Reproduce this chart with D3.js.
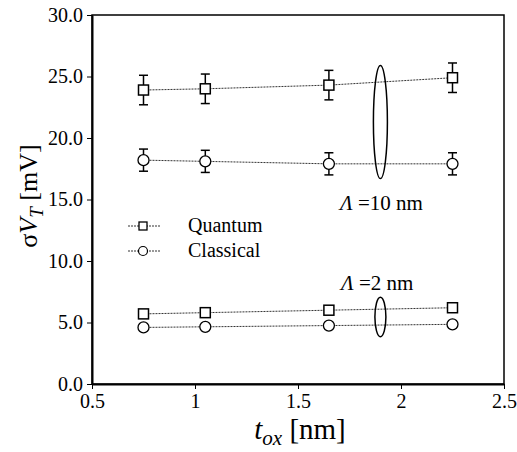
<!DOCTYPE html>
<html>
<head>
<meta charset="utf-8">
<script src="https://cdn.jsdelivr.net/npm/d3@7"></script>
<style>
  body { margin: 0; background: #fff; }
  svg text { font-family: "Liberation Serif", "Times New Roman", serif; }
</style>
</head>
<body>
<svg id="chart" width="517" height="452"></svg>
<script>
// oxide thickness [nm]
const tox = [0.75, 1.05, 1.65, 2.25];

// Lambda = 10 nm
const quantum10 = [23.9, 24.0, 24.3, 24.9];
const quantum10Err = [1.2, 1.2, 1.2, 1.2];
const classical10 = [18.2, 18.1, 17.9, 17.9];
const classical10Err = [0.9, 0.9, 0.9, 0.9];

// Lambda = 2 nm
const quantum2 = [5.7, 5.8, 6.0, 6.2];
const classical2 = [4.6, 4.65, 4.75, 4.85];

const xTicks = [0.5, 1, 1.5, 2, 2.5];
const yTicks = [0, 5, 10, 15, 20, 25, 30];

const margin = { left: 92, right: 13, top: 15, bottom: 68 };
const width = 517, height = 452;

const svg = d3.select("#chart");

const x = d3.scaleLinear().domain([0.5, 2.5]).range([margin.left, width - margin.right]);
const y = d3.scaleLinear().domain([0, 30]).range([height - margin.bottom, margin.top]);

// frame
svg.append("rect")
    .attr("x", x(0.5)).attr("y", y(30))
    .attr("width", x(2.5) - x(0.5)).attr("height", y(0) - y(30))
    .attr("fill", "none").attr("stroke", "#000").attr("stroke-width", 1.5);

// axes
const xAxis = svg.append("g")
    .attr("transform", `translate(0,${y(0)})`)
    .call(d3.axisBottom(x).tickValues(xTicks).tickSize(5).tickSizeOuter(0)
        .tickFormat(d => d === 1 || d === 2 ? String(d) : d3.format(".1f")(d)));
xAxis.attr("font-family", null);
xAxis.select(".domain").attr("stroke-width", 2);
xAxis.selectAll("text").attr("font-size", 20).attr("dy", "0.8em");

const yAxis = svg.append("g")
    .attr("transform", `translate(${x(0.5)},0)`)
    .call(d3.axisLeft(y).tickValues(yTicks).tickSize(5).tickSizeOuter(0).tickFormat(d3.format(".1f")));
yAxis.attr("font-family", null);
yAxis.select(".domain").attr("stroke-width", 2);
yAxis.selectAll("text").attr("font-size", 20).attr("dx", "-1px");

// series
const line = d3.line().x(d => x(d[0])).y(d => y(d[1]));

function drawSeries(vals, errs, shape) {
    const pts = tox.map((t, i) => [t, vals[i]]);
    svg.append("path")
        .datum(pts)
        .attr("d", line)
        .attr("fill", "none")
        .attr("stroke", "#333")
        .attr("stroke-width", 1)
        .attr("stroke-dasharray", "2,1");

    if (errs) {
        const g = svg.append("g").attr("stroke", "#000").attr("stroke-width", 1.5);
        tox.forEach((t, i) => {
            const cx = x(t);
            const top = y(vals[i] + errs[i]), bot = y(vals[i] - errs[i]);
            g.append("line").attr("x1", cx).attr("x2", cx).attr("y1", top).attr("y2", bot);
            g.append("line").attr("x1", cx - 4.5).attr("x2", cx + 4.5).attr("y1", top).attr("y2", top);
            g.append("line").attr("x1", cx - 4.5).attr("x2", cx + 4.5).attr("y1", bot).attr("y2", bot);
        });
    }

    const m = svg.append("g");
    pts.forEach(p => drawMarker(m, x(p[0]), y(p[1]), shape));
}

function drawMarker(g, cx, cy, shape) {
    if (shape === "square") {
        g.append("rect")
            .attr("x", cx - 5).attr("y", cy - 5).attr("width", 10).attr("height", 10)
            .attr("fill", "#fff").attr("stroke", "#000").attr("stroke-width", 1.5);
    } else {
        g.append("circle")
            .attr("cx", cx).attr("cy", cy).attr("r", 5.5)
            .attr("fill", "#fff").attr("stroke", "#000").attr("stroke-width", 1.3);
    }
}

drawSeries(quantum10, quantum10Err, "square");
drawSeries(classical10, classical10Err, "circle");
drawSeries(quantum2, null, "square");
drawSeries(classical2, null, "circle");

// group ellipses
svg.append("ellipse")
    .attr("cx", x(1.9)).attr("cy", y(21.3))
    .attr("rx", 7).attr("ry", y(16.7) - y(21.3))
    .attr("fill", "none").attr("stroke", "#000").attr("stroke-width", 1.5);
svg.append("ellipse")
    .attr("cx", x(1.9)).attr("cy", y(5.45))
    .attr("rx", 5.5).attr("ry", y(3.85) - y(5.45))
    .attr("fill", "none").attr("stroke", "#000").attr("stroke-width", 1.5);

// annotations
function lambdaLabel(tx, ty, val) {
    const t = svg.append("text").attr("x", tx).attr("y", ty).attr("font-size", 21);
    t.append("tspan").attr("font-style", "italic").text("\u039B");
    t.append("tspan").text(` =${val} nm`);
}
lambdaLabel(340, 210, 10);
lambdaLabel(341, 290, 2);

// legend
const legend = [["Quantum", "square", 226], ["Classical", "circle", 251]];
legend.forEach(([name, shape, ly]) => {
    svg.append("line")
        .attr("x1", 128).attr("x2", 160).attr("y1", ly).attr("y2", ly)
        .attr("stroke", "#333").attr("stroke-width", 1).attr("stroke-dasharray", "2,1");
    const g = svg.append("g");
    if (shape === "square") {
        g.append("rect").attr("x", 139).attr("y", ly - 4).attr("width", 8).attr("height", 8)
            .attr("fill", "#fff").attr("stroke", "#000").attr("stroke-width", 1.3);
    } else {
        g.append("circle").attr("cx", 143).attr("cy", ly).attr("r", 4.5)
            .attr("fill", "#fff").attr("stroke", "#000").attr("stroke-width", 1.2);
    }
    svg.append("text").attr("x", 188).attr("y", ly + 6).attr("font-size", 20).text(name);
});

// axis titles
const xt = svg.append("text")
    .attr("x", 300).attr("y", 439).attr("text-anchor", "middle").attr("font-size", 29);
xt.append("tspan").attr("font-style", "italic").text("t");
xt.append("tspan").attr("font-style", "italic").attr("font-size", 21).attr("dy", 6).text("ox");
xt.append("tspan").attr("dy", -6).text(" [nm]");

const yt = svg.append("text")
    .attr("transform", `translate(37,196) rotate(-90)`)
    .attr("text-anchor", "middle").attr("font-size", 26);
yt.append("tspan").text("\u03C3");
yt.append("tspan").attr("font-style", "italic").text("V");
yt.append("tspan").attr("font-style", "italic").attr("font-size", 19).attr("dy", 6).text("T");
yt.append("tspan").attr("dy", -6).text(" [mV]");
</script>
</body>
</html>
